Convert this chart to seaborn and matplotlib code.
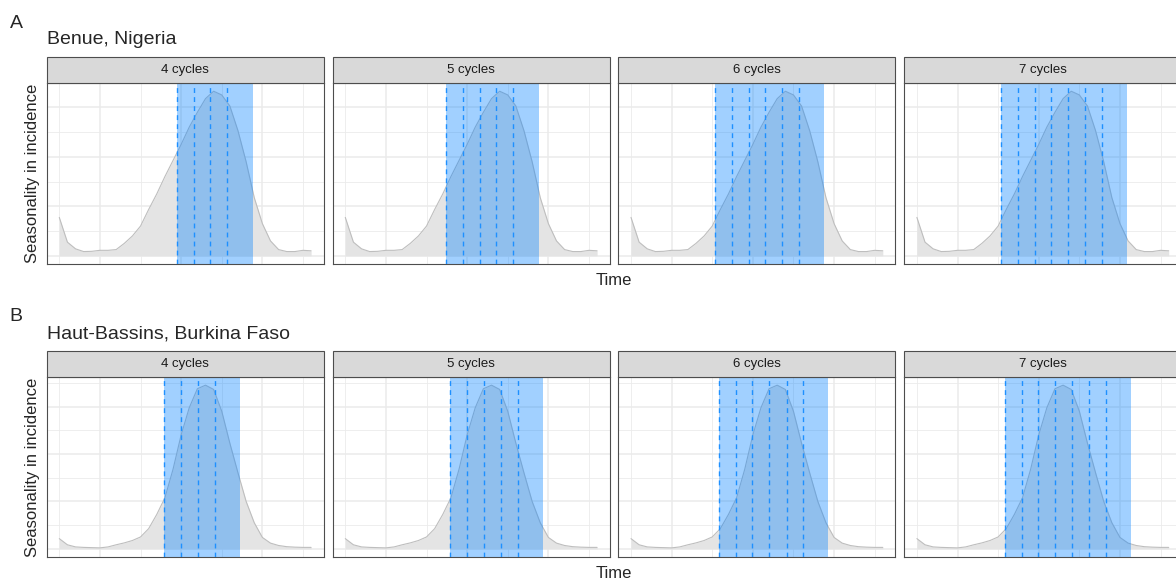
import matplotlib
matplotlib.use("Agg")
import matplotlib.pyplot as plt
import seaborn as sns
from matplotlib.patches import Rectangle
from matplotlib.ticker import FixedLocator

# seasonality profiles (arbitrary time steps)
time = list(range(32))
benue_incidence = [1.55, 0.55, 0.28, 0.17, 0.18, 0.22, 0.22, 0.25, 0.50, 0.80, 1.20, 1.87,
                   2.50, 3.20, 3.85, 4.50, 5.20, 5.80, 6.35, 6.65, 6.50, 6.05, 5.05, 3.80,
                   2.35, 1.30, 0.60, 0.25, 0.17, 0.17, 0.22, 0.20]
haut_incidence = [0.43, 0.17, 0.08, 0.06, 0.05, 0.04, 0.08, 0.17, 0.25, 0.35, 0.50, 0.85,
                  1.45, 2.15, 3.35, 4.80, 5.95, 6.75, 6.90, 6.72, 5.80, 4.45, 3.20, 2.00,
                  1.10, 0.48, 0.24, 0.14, 0.09, 0.07, 0.06, 0.06]

cycle_labels = ["4 cycles", "5 cycles", "6 cycles", "7 cycles"]

# start of each SMC cycle and end of protected period, per panel
benue_cycle_starts = [
    [14.5, 16.55, 18.6, 20.7],
    [12.4, 14.5, 16.55, 18.6, 20.7],
    [10.3, 12.4, 14.5, 16.55, 18.6, 20.7],
    [10.3, 12.4, 14.5, 16.55, 18.6, 20.7, 22.8],
]
benue_cover_end = [23.8, 23.8, 23.8, 25.9]

haut_cycle_starts = [
    [12.9, 14.95, 17.05, 19.15],
    [12.9, 14.95, 17.05, 19.15, 21.2],
    [10.8, 12.9, 14.95, 17.05, 19.15, 21.2],
    [10.8, 12.9, 14.95, 17.05, 19.15, 21.2, 23.3],
]
haut_cover_end = [22.2, 24.3, 24.3, 26.4]

rows = [
    ("A", "Benue, Nigeria", benue_incidence, benue_cycle_starts, benue_cover_end),
    ("B", "Haut-Bassins, Burkina Faso", haut_incidence, haut_cycle_starts, haut_cover_end),
]

sns.set_theme(style="white")
plt.rcParams["font.family"] = ["Liberation Sans", "DejaVu Sans"]

W, H = 1176, 580
fig = plt.figure(figsize=(W / 100, H / 100), dpi=100)

panel_lefts = [46.7, 332.7, 618.4, 904.3]
panel_width = 277.0
row_boxes = [(83, 264), (377, 557)]  # top, bottom in px
strip_h = 26.0
row_text_y = [(28.3, 44.3, 284.5), (320.7, 338.3, 578.0)]

xmax = max(time)
for (tag, region, incidence, starts, ends), (top, bottom), (tag_y, title_y, time_y) in zip(
        rows, row_boxes, row_text_y):
    height = bottom - top
    ymax = max(incidence)
    for i, label in enumerate(cycle_labels):
        ax = fig.add_axes([panel_lefts[i] / W, 1 - bottom / H, panel_width / W, height / H])
        ax.fill_between(time, incidence, 0, color="#E4E4E4", lw=0, zorder=1)
        sns.lineplot(x=time, y=incidence, ax=ax, color="#BEBEBE", linewidth=0.8, zorder=2)
        ax.axvspan(starts[i][0], ends[i], color="#0080FF", alpha=0.37, lw=0, zorder=3)
        for s in starts[i]:
            ax.axvline(s, color="#1E90FF", lw=1.0, dashes=(3.5, 3), zorder=4)

        ax.set_xlim(-0.05 * xmax, 1.05 * xmax)
        ax.set_ylim(-0.05 * ymax, 1.05 * ymax)
        ax.xaxis.set_major_locator(FixedLocator([5, 15, 25]))
        ax.xaxis.set_minor_locator(FixedLocator([0, 10, 20, 30]))
        ax.yaxis.set_major_locator(FixedLocator([0, 2, 4, 6]))
        ax.yaxis.set_minor_locator(FixedLocator([1, 3, 5, 7]))
        ax.grid(which="major", color="#EBEBEB", lw=1.1)
        ax.grid(which="minor", color="#EBEBEB", lw=0.6)
        ax.set_axisbelow(True)
        ax.tick_params(which="both", length=0, labelbottom=False, labelleft=False)
        ax.set_xlabel("")
        ax.set_ylabel("")
        for sp in ax.spines.values():
            sp.set_visible(True)
            sp.set_color("#4D4D4D")
            sp.set_linewidth(0.8)

        sh = strip_h / height
        ax.add_patch(Rectangle((0, 1), 1, sh, transform=ax.transAxes, clip_on=False,
                               facecolor="#D9D9D9", edgecolor="#4D4D4D", lw=0.8, zorder=5))
        ax.text(0.5, 1 + sh / 2, label, transform=ax.transAxes, ha="center", va="center",
                fontsize=9.5, color="#1A1A1A", zorder=6)

    fig.text(9.5 / W, 1 - tag_y / H, tag, fontsize=14, ha="left", va="baseline")
    fig.text(47 / W, 1 - title_y / H, region, fontsize=14, ha="left", va="baseline")
    fig.text(33 / W, 1 - (top + bottom) / 2 / H, "Seasonality in incidence", fontsize=12,
             rotation=90, ha="center", va="center")
    fig.text(614 / W, 1 - time_y / H, "Time", fontsize=12, ha="center", va="baseline")

fig.savefig("out.png", dpi=100)
